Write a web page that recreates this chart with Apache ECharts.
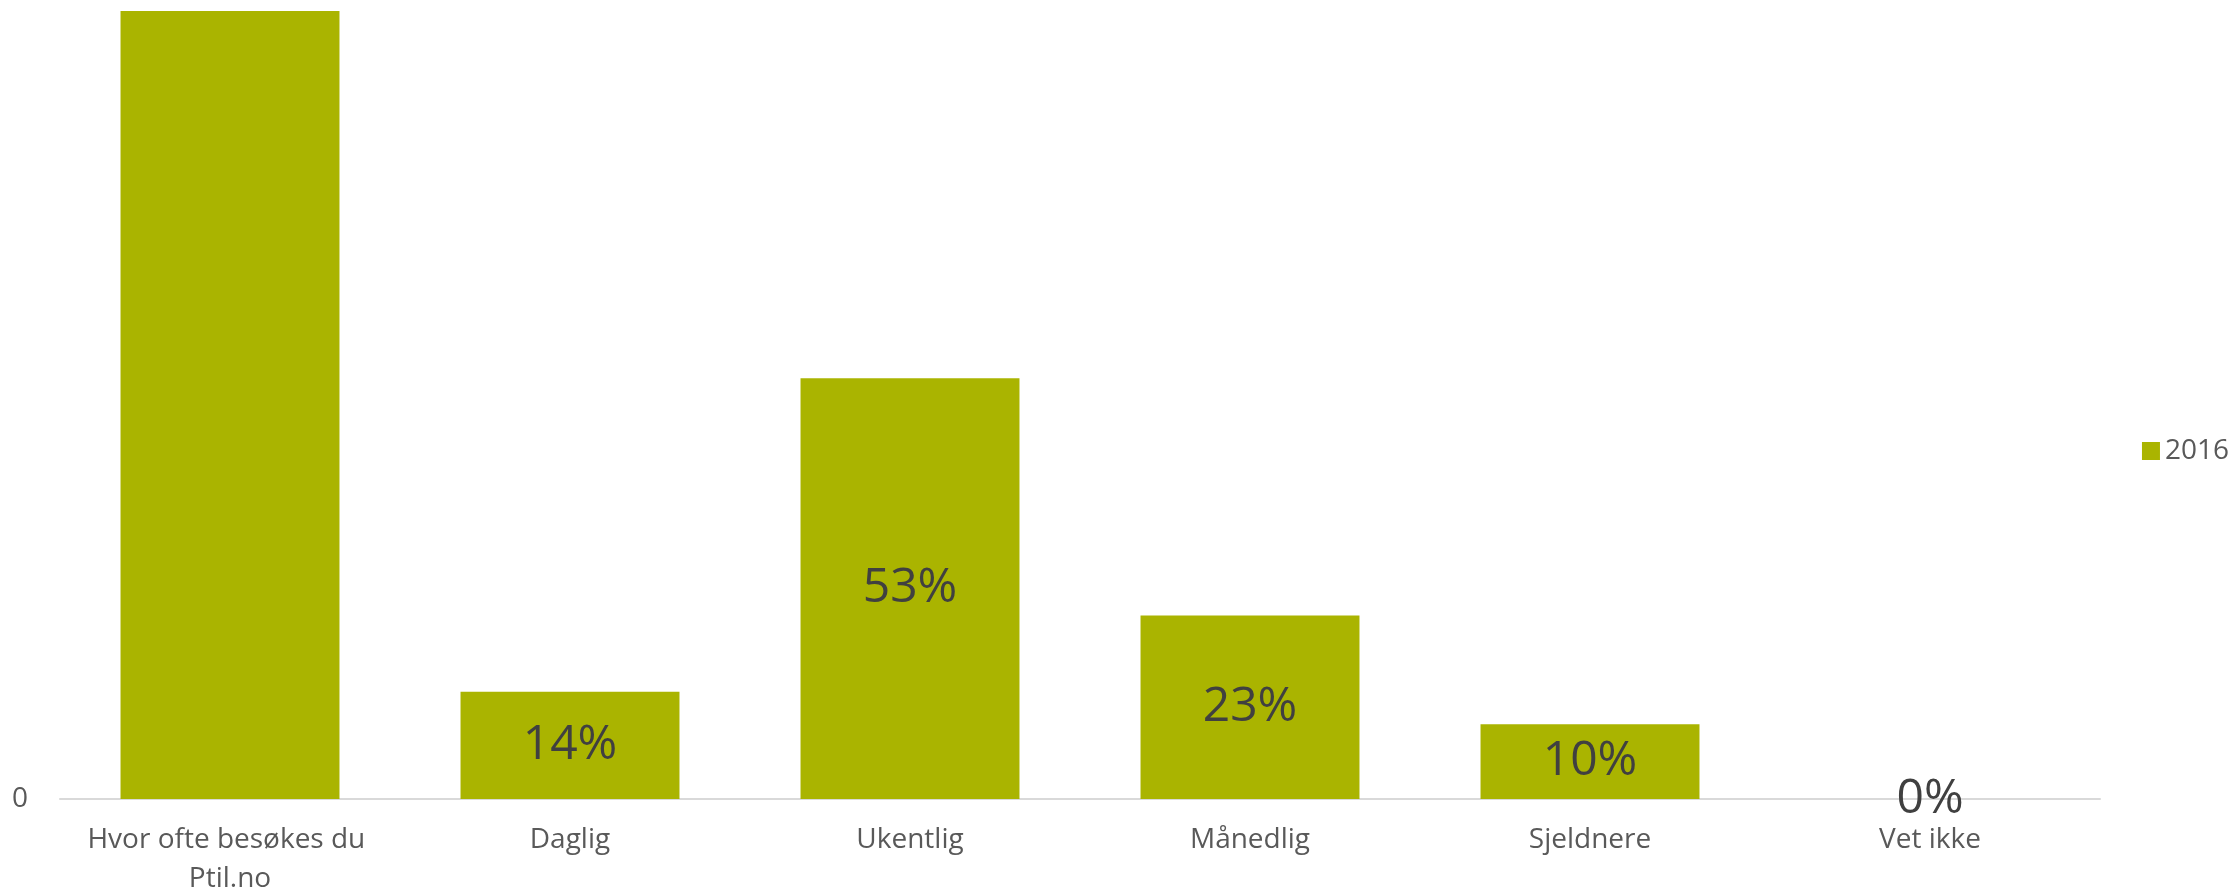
<!DOCTYPE html>
<html>
<head>
<meta charset="utf-8">
<script src="https://cdn.jsdelivr.net/npm/echarts@6/dist/echarts.min.js"></script>
<style>
html,body{margin:0;padding:0;background:#fff;}
#chart{width:2239px;height:893px;}
</style>
</head>
<body>
<div id="chart"></div>
<script>
const categories = ['Hvor ofte besøkes du Ptil.no', 'Daglig', 'Ukentlig', 'Månedlig', 'Sjeldnere', 'Vet ikke'];
const values2016 = [1.00, 0.136, 0.534, 0.233, 0.095, 0.00];
const showLabel = [false, true, true, true, true, true];
const seriesName = '2016';

const chart = echarts.init(document.getElementById('chart'));
const FONT = '"Open Sans", sans-serif';
chart.setOption({
  animation: false,
  textStyle: { fontFamily: FONT },
  grid: { left: 60, right: 139, top: 11, bottom: 94, containLabel: false, outerBoundsMode: 'none' },
  legend: {
    data: [seriesName],
    orient: 'vertical',
    right: 5,
    top: 432,
    itemWidth: 18,
    itemHeight: 18,
    itemGap: 9,
    icon: 'rect',
    textStyle: { fontSize: 28, color: '#595959', fontFamily: FONT }
  },
  xAxis: {
    type: 'category',
    data: categories,
    axisLine: { lineStyle: { color: '#d9d9d9', width: 2 } },
    axisTick: { show: false },
    axisLabel: {
      interval: 0,
      fontSize: 28,
      lineHeight: 39,
      color: '#595959',
      margin: 22,
      width: 330,
      overflow: 'break',
      fontFamily: FONT
    }
  },
  yAxis: {
    type: 'value',
    min: 0,
    max: 1,
    interval: 1,
    splitLine: { show: false },
    axisLine: { show: false },
    axisTick: { show: false },
    axisLabel: {
      fontSize: 28,
      color: '#595959',
      margin: 32,
      fontFamily: FONT,
      formatter: v => (v === 0 ? '0' : '')
    }
  },
  series: [{
    name: seriesName,
    type: 'bar',
    data: values2016,
    barCategoryGap: '35.6%',
    itemStyle: { color: '#aab400' },
    label: {
      show: true,
      position: 'inside',
      fontSize: 48,
      color: '#404040',
      fontFamily: FONT,
      formatter: p => (showLabel[p.dataIndex] ? Math.round(p.value * 100) + '%' : '')
    }
  }]
});
</script>
</body>
</html>
